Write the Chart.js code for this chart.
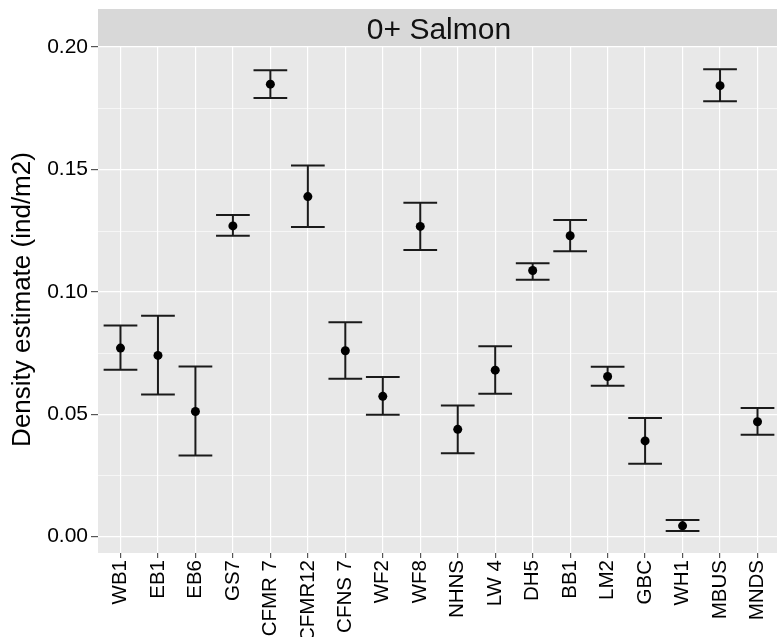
<!DOCTYPE html>
<html>
<head>
<meta charset="utf-8">
<title>0+ Salmon</title>
<script src="https://cdn.jsdelivr.net/npm/chart.js@4.4.1/dist/chart.umd.min.js"></script>
<style>
  html, body { margin: 0; padding: 0; background: #fff; overflow: hidden; }
</style>
</head>
<body>
<canvas id="salmonChart" width="777" height="637"></canvas>
<script>
// --- data ---
const sites = ['WB1', 'EB1', 'EB6', 'GS7', 'CFMR 7', 'CFMR12', 'CFNS 7', 'WF2', 'WF8',
               'NHNS', 'LW 4', 'DH5', 'BB1', 'LM2', 'GBC', 'WH1', 'MBUS', 'MNDS'];
const density = [0.0770, 0.0740, 0.0511, 0.1269, 0.1848, 0.1389, 0.0759, 0.0573, 0.1267,
                 0.0438, 0.0680, 0.1087, 0.1229, 0.0654, 0.0391, 0.0044, 0.1842, 0.0469];
const lowerCI = [0.0682, 0.0580, 0.0331, 0.1229, 0.1792, 0.1265, 0.0645, 0.0498, 0.1171,
                 0.0340, 0.0584, 0.1049, 0.1166, 0.0616, 0.0298, 0.0023, 0.1778, 0.0416];
const upperCI = [0.0862, 0.0902, 0.0695, 0.1314, 0.1905, 0.1516, 0.0876, 0.0652, 0.1364,
                 0.0535, 0.0778, 0.1117, 0.1293, 0.0694, 0.0484, 0.0068, 0.1909, 0.0525];
const yTicks = [0, 0.05, 0.10, 0.15, 0.20];
const panelTitle = '0+ Salmon';
const yTitle = 'Density estimate (ind/m2)';

const FONT = '"Liberation Sans", Arial, sans-serif';

// grey panel, minor grid lines and the facet strip
const panelPlugin = {
    id: 'panel',
    beforeDraw(chart) {
        const { ctx, chartArea: a, scales: { y } } = chart;
        ctx.save();
        ctx.fillStyle = '#E8E8E8';
        ctx.fillRect(a.left, a.top, a.right - a.left, a.bottom - a.top);

        ctx.strokeStyle = '#ffffff';
        ctx.lineWidth = 0.6;
        for (let i = 0; i < yTicks.length - 1; i++) {
            const py = Math.round(y.getPixelForValue((yTicks[i] + yTicks[i + 1]) / 2)) + 0.5;
            ctx.beginPath();
            ctx.moveTo(a.left, py);
            ctx.lineTo(a.right, py);
            ctx.stroke();
        }

        ctx.fillStyle = '#D8D8D8';
        ctx.fillRect(a.left, 9, a.right - a.left, a.top - 9);
        ctx.fillStyle = '#111111';
        ctx.font = '30px ' + FONT;
        ctx.textAlign = 'center';
        ctx.textBaseline = 'alphabetic';
        ctx.fillText(panelTitle, (a.left + 780) / 2, 39);
        ctx.restore();
    }
};

// error bars drawn through the chart scales
const errorBarPlugin = {
    id: 'errorBars',
    beforeDatasetsDraw(chart) {
        const { ctx, scales: { x, y } } = chart;
        ctx.save();
        ctx.strokeStyle = '#1a1a1a';
        ctx.lineWidth = 2;
        sites.forEach((s, i) => {
            const cx = x.getPixelForValue(i);
            const x0 = x.getPixelForValue(i - 0.45);
            const x1 = x.getPixelForValue(i + 0.45);
            const yu = y.getPixelForValue(upperCI[i]);
            const yl = y.getPixelForValue(lowerCI[i]);
            ctx.beginPath();
            ctx.moveTo(x0, yu); ctx.lineTo(x1, yu);
            ctx.moveTo(cx, yu); ctx.lineTo(cx, yl);
            ctx.moveTo(x0, yl); ctx.lineTo(x1, yl);
            ctx.stroke();
        });
        ctx.restore();
    }
};

new Chart(document.getElementById('salmonChart'), {
    type: 'scatter',
    data: {
        datasets: [{
            label: panelTitle,
            data: density.map((v, i) => ({ x: i, y: v })),
            backgroundColor: '#000000',
            borderWidth: 0,
            pointRadius: 4.5
        }]
    },
    options: {
        responsive: false,
        animation: false,
        layout: { autoPadding: false, padding: { top: 46, left: 0, right: 0, bottom: 0 } },
        plugins: {
            legend: { display: false },
            tooltip: { enabled: false }
        },
        scales: {
            x: {
                type: 'linear',
                min: -0.6,
                max: 17.52,
                afterBuildTicks: (scale) => { scale.ticks = sites.map((s, i) => ({ value: i })); },
                afterFit: (scale) => {
                    scale.height = 84;
                    // panel runs to the right edge of the picture
                    scale.paddingLeft = 0;
                    scale.paddingRight = 0;
                },
                ticks: {
                    autoSkip: false,
                    minRotation: 90,
                    maxRotation: 90,
                    padding: 2,
                    color: '#000000',
                    font: { family: FONT, size: 20.5 },
                    callback: (value) => sites[value]
                },
                grid: {
                    color: '#ffffff',
                    lineWidth: 1.2,
                    drawTicks: true,
                    tickLength: 5,
                    tickColor: '#555555',
                    tickWidth: 1.2
                },
                border: { display: false }
            },
            y: {
                min: -0.0067,
                max: 0.2004,
                afterBuildTicks: (scale) => { scale.ticks = yTicks.map(v => ({ value: v })); },
                afterFit: (scale) => { scale.width = 98; },
                ticks: {
                    padding: 3,
                    color: '#000000',
                    font: { family: FONT, size: 21 },
                    callback: (value) => value.toFixed(2)
                },
                grid: {
                    color: '#ffffff',
                    lineWidth: 1.2,
                    drawTicks: true,
                    tickLength: 7,
                    tickColor: '#555555',
                    tickWidth: 1.2
                },
                border: { display: false },
                title: {
                    display: true,
                    text: yTitle,
                    color: '#000000',
                    font: { family: FONT, size: 26 },
                    padding: { top: 7, bottom: 0 }
                }
            }
        }
    },
    plugins: [panelPlugin, errorBarPlugin]
});
</script>
</body>
</html>
